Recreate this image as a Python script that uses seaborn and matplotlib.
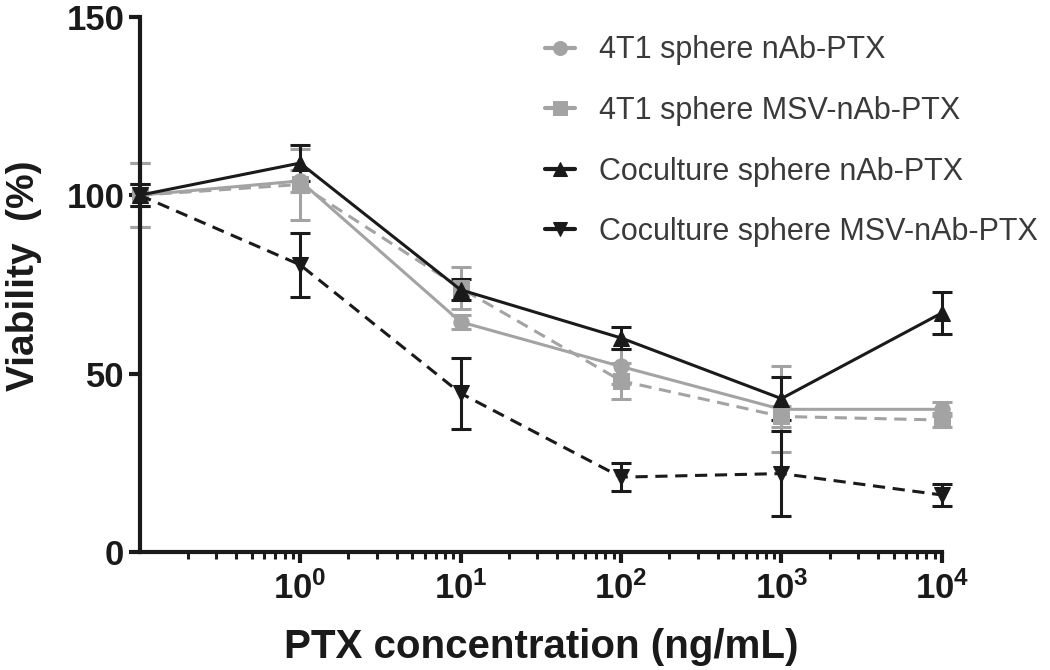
import numpy as np
import pandas as pd
import matplotlib
matplotlib.use("Agg")
import matplotlib.pyplot as plt
from matplotlib.ticker import FixedLocator, NullFormatter
import seaborn as sns

# 数据
conc = [0.1, 1, 10, 100, 1000, 10000]
series_names = ['4T1 sphere nAb-PTX', '4T1 sphere MSV-nAb-PTX',
                'Coculture sphere nAb-PTX', 'Coculture sphere MSV-nAb-PTX']
viab_4t1_nab = [100, 104, 64.5, 52, 40, 40]
viab_4t1_msv = [100, 103, 74, 48, 38, 37]
viab_co_nab = [100, 109, 73.5, 60, 43, 67]
viab_co_msv = [100, 80.5, 44.5, 21, 22, 16]
err_4t1_nab = [9, 3, 2, 5, 12, 2]
err_4t1_msv = [9, 10, 6, 5, 3, 2]
err_co_nab = [3, 5, 3, 3, 6, 6]
err_co_msv = [3, 9, 10, 4, 12, 3]
xtick_vals = [1, 10, 100, 1000, 10000]
xtick_labels = [r'$\mathbf{10^{0}}$', r'$\mathbf{10^{1}}$', r'$\mathbf{10^{2}}$',
                r'$\mathbf{10^{3}}$', r'$\mathbf{10^{4}}$']

sns.set_style("ticks")
plt.rcParams['font.family'] = ['Liberation Sans', 'DejaVu Sans']
plt.rcParams['mathtext.fontset'] = 'custom'
plt.rcParams['mathtext.rm'] = 'Liberation Sans'
plt.rcParams['mathtext.bf'] = 'Liberation Sans:bold'

fig = plt.figure(figsize=(10.5, 6.7), dpi=100)
ax = fig.add_axes([0.133, 0.176, 0.764, 0.799])

gray = '#a3a3a3'
black = '#1a1a1a'
styles = [
    (viab_4t1_nab, err_4t1_nab, gray, 'o', '-'),
    (viab_4t1_msv, err_4t1_msv, gray, 's', '--'),
    (viab_co_nab, err_co_nab, black, '^', '-'),
    (viab_co_msv, err_co_msv, black, 'v', '--'),
]

for name, (vals, errs, col, mk, ls) in zip(series_names, styles):
    df = pd.DataFrame({'conc': conc, 'viab': vals})
    sns.lineplot(data=df, x='conc', y='viab', ax=ax, color=col, marker=mk,
                 markersize=11, markeredgecolor=col, linestyle=ls,
                 linewidth=2.2, label=name, clip_on=False, zorder=3)
    if ls == '--':
        ax.lines[-1].set_dashes((4, 2.5))
    ax.errorbar(conc, vals, yerr=errs, fmt='none', ecolor=col,
                elinewidth=2.2, capsize=7, capthick=2.2, clip_on=False, zorder=2)

ax.set_xscale('log')
ax.set_xlim(0.1, 10000)
ax.set_ylim(0, 150)
ax.set_yticks([0, 50, 100, 150])
ax.xaxis.set_major_locator(FixedLocator(xtick_vals))
minor = [m * 10.0 ** e for e in range(-1, 4) for m in range(2, 10)]
ax.xaxis.set_minor_locator(FixedLocator(minor))
ax.xaxis.set_minor_formatter(NullFormatter())
ax.set_xticklabels(xtick_labels)

sns.despine(ax=ax)
for s in ['left', 'bottom']:
    ax.spines[s].set_linewidth(3)
    ax.spines[s].set_color(black)
ax.tick_params(axis='both', which='major', length=8, width=3, colors=black,
               labelsize=25, pad=3)
ax.tick_params(axis='x', which='major', pad=6)
ax.tick_params(axis='x', which='minor', length=5, width=2.2, colors=black)
for lab in ax.get_yticklabels():
    lab.set_fontweight('bold')

ax.set_xlabel('PTX concentration (ng/mL)', fontsize=29, fontweight='bold',
              color=black)
ax.xaxis.set_label_coords(0.50, -0.142)
ax.set_ylabel('Viability  (%)', fontsize=28, fontweight='bold', color=black)
ax.yaxis.set_label_coords(-0.122, 0.516)

leg = ax.legend(loc='upper left', bbox_to_anchor=(0.505, 0.965), frameon=False,
                fontsize=22, labelspacing=1.0, handlelength=1.0,
                handletextpad=0.78, borderpad=0, borderaxespad=0,
                labelcolor='#3a3a3a')
for h in leg.legend_handles:
    h.set_linestyle('-')
    h.set_linewidth(3)
    h.set_markersize(10)

fig.savefig('out.png', dpi=100)
